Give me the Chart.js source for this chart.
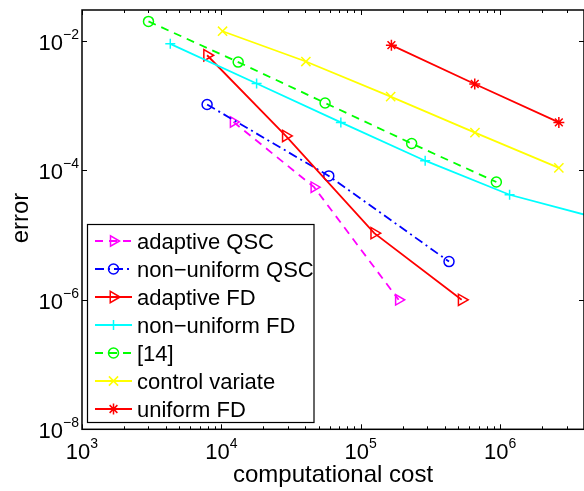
<!DOCTYPE html>
<html lang="en">
<head>
  <meta charset="UTF-8" />
  <title>error vs computational cost</title>
  <script src="https://cdn.jsdelivr.net/npm/chart.js"></script>
  <style>
    html, body { margin: 0; padding: 0; background: #fff; }
    canvas { display: block; }
  </style>
</head>
<body>
<canvas id="costChart" width="584" height="491"></canvas>
<script>
  // values (log-log)
  const seriesNames = ["adaptive QSC", "non\u2212uniform QSC", "adaptive FD", "non\u2212uniform FD", "[14]", "control variate", "uniform FD"];

  const adaptiveQscCost = [1.22e4, 4.63e4, 1.87e5];
  const adaptiveQscErr  = [5.6e-4, 5.5e-5, 1.0e-6];

  const nonUniformQscCost = [7.9e3, 5.9e4, 4.3e5];
  const nonUniformQscErr  = [1.04e-3, 8.2e-5, 3.9e-6];

  const adaptiveFdCost = [7.9e3, 2.9e4, 1.25e5, 5.3e5];
  const adaptiveFdErr  = [6.0e-3, 3.4e-4, 1.07e-5, 1.0e-6];

  const nonUniformFdCost = [4.3e3, 1.79e4, 7.2e4, 2.9e5, 1.17e6, 4.7e6];
  const nonUniformFdErr  = [9.0e-3, 2.2e-3, 5.5e-4, 1.41e-4, 4.2e-5, 1.9e-5];

  const ref14Cost = [3.0e3, 1.32e4, 5.55e4, 2.32e5, 9.4e5];
  const ref14Err  = [2.0e-2, 4.7e-3, 1.1e-3, 2.6e-4, 6.6e-5];

  const controlVariateCost = [1.02e4, 4.04e4, 1.64e5, 6.6e5, 2.64e6];
  const controlVariateErr  = [1.41e-2, 4.8e-3, 1.38e-3, 3.83e-4, 1.09e-4];

  const uniformFdCost = [1.66e5, 6.58e5, 2.64e6];
  const uniformFdErr  = [8.6e-3, 2.16e-3, 5.5e-4];

  const xMajorTicks = [1e3, 1e4, 1e5, 1e6];
  const xTickExps = ["3", "4", "5", "6"];
  const yMajorTicks = [1e-2, 1e-4, 1e-6, 1e-8];
  const yTickExps = ["\u22122", "\u22124", "\u22126", "\u22128"];

  const FONT = '"Liberation Sans", Arial, Helvetica, sans-serif';

  function makeSet(i, xs, ys, color, style, dash, radius, rotation) {
    return {
      label: seriesNames[i],
      data: xs.map((v, k) => ({ x: v, y: ys[k] })),
      showLine: true,
      borderColor: color,
      borderWidth: 1.8,
      borderDash: dash,
      tension: 0,
      fill: false,
      pointStyle: style,
      pointRadius: radius,
      pointRotation: rotation || 0,
      pointBorderColor: color,
      pointBackgroundColor: "rgba(0,0,0,0)",
      pointBorderWidth: 1.5,
      order: -i
    };
  }

  const datasets = [
    makeSet(0, adaptiveQscCost, adaptiveQscErr, "#ff00ff", "triangle", [8, 6], 6, 90),
    makeSet(1, nonUniformQscCost, nonUniformQscErr, "#0000ff", "circle", [9, 4, 2, 4], 5),
    makeSet(2, adaptiveFdCost, adaptiveFdErr, "#ff0000", "triangle", [], 6.5, 90),
    makeSet(3, nonUniformFdCost, nonUniformFdErr, "#00ffff", "cross", [], 5),
    makeSet(4, ref14Cost, ref14Err, "#00ff00", "circle", [8, 6], 5),
    makeSet(5, controlVariateCost, controlVariateErr, "#ffff00", "crossRot", [], 6.5),
    makeSet(6, uniformFdCost, uniformFdErr, "#ff0000", "star", [], 5.5)
  ];

  function drawMarker(ctx, ds, cx, cy) {
    ctx.setLineDash([]);
    ctx.strokeStyle = ds.pointBorderColor;
    ctx.fillStyle = "rgba(0,0,0,0)";
    ctx.lineWidth = ds.pointBorderWidth;
    Chart.helpers.drawPoint(ctx, {
      pointStyle: ds.pointStyle,
      rotation: ds.pointRotation,
      radius: ds.pointRadius,
      borderWidth: ds.pointBorderWidth
    }, cx, cy);
  }

  const matlabAxes = {
    id: "matlabAxes",
    afterDraw(chart) {
      const { ctx, chartArea: a, scales: { x, y } } = chart;
      ctx.save();
      ctx.setLineDash([]);
      ctx.strokeStyle = "#000";
      ctx.fillStyle = "#000";

      // tick marks (inward, all four sides)
      ctx.lineWidth = 1;
      ctx.beginPath();
      for (let d = 3; d <= 6; d++) {
        for (let k = 1; k <= 9; k++) {
          const v = k * Math.pow(10, d);
          if (v > x.max) break;
          const len = k === 1 ? 5 : 3;
          const px = Math.round(x.getPixelForValue(v)) + 0.5;
          ctx.moveTo(px, a.bottom); ctx.lineTo(px, a.bottom - len);
          ctx.moveTo(px, a.top); ctx.lineTo(px, a.top + len);
        }
      }
      yMajorTicks.forEach(v => {
        const py = Math.round(y.getPixelForValue(v)) + 0.5;
        ctx.moveTo(a.left, py); ctx.lineTo(a.left + 5, py);
        ctx.moveTo(a.right, py); ctx.lineTo(a.right - 5, py);
      });
      ctx.stroke();

      ctx.lineWidth = 1.5;
      ctx.strokeRect(a.left, a.top, a.right - a.left, a.bottom - a.top);

      // tick labels 10^n
      ctx.textAlign = "left";
      ctx.textBaseline = "alphabetic";
      xMajorTicks.forEach((v, i) => {
        const px = x.getPixelForValue(v);
        ctx.font = "22px " + FONT;
        const w1 = ctx.measureText("10").width;
        ctx.font = "14px " + FONT;
        const w2 = ctx.measureText(xTickExps[i]).width;
        const sx = px - (w1 + w2) / 2;
        ctx.font = "22px " + FONT;
        ctx.fillText("10", sx, 459);
        ctx.font = "14px " + FONT;
        ctx.fillText(xTickExps[i], sx + w1, 448);
      });
      yMajorTicks.forEach((v, i) => {
        const py = y.getPixelForValue(v);
        ctx.font = "22px " + FONT;
        const w1 = ctx.measureText("10").width;
        ctx.font = "14px " + FONT;
        const w2 = ctx.measureText(yTickExps[i]).width;
        const sx = 79 - (w1 + w2);
        ctx.font = "22px " + FONT;
        ctx.fillText("10", sx, py + 9);
        ctx.font = "14px " + FONT;
        ctx.fillText(yTickExps[i], sx + w1, py - 2);
      });

      // axis titles
      ctx.font = "24px " + FONT;
      ctx.textAlign = "center";
      ctx.fillText("computational cost", (a.left + a.right) / 2, 482);
      ctx.save();
      ctx.translate(28, 218);
      ctx.rotate(-Math.PI / 2);
      ctx.fillText("error", 0, 0);
      ctx.restore();

      // legend box
      const bx = 87.5, by = 224.5, bw = 226.5, bh = 198;
      ctx.fillStyle = "#fff";
      ctx.fillRect(bx, by, bw, bh);
      ctx.lineWidth = 1.2;
      ctx.strokeStyle = "#000";
      ctx.strokeRect(bx, by, bw, bh);
      ctx.font = "22px " + FONT;
      ctx.textAlign = "left";
      datasets.forEach((ds, i) => {
        const cy = 241 + i * 28;
        ctx.strokeStyle = ds.borderColor;
        ctx.lineWidth = ds.borderWidth;
        ctx.setLineDash(ds.borderDash);
        ctx.beginPath();
        ctx.moveTo(95, cy);
        ctx.lineTo(132, cy);
        ctx.stroke();
        drawMarker(ctx, ds, 113.5, cy);
        ctx.fillStyle = "#000";
        ctx.fillText(ds.label, 137, cy + 8);
      });
      ctx.restore();
    }
  };

  new Chart(document.getElementById("costChart").getContext("2d"), {
    type: "scatter",
    data: { datasets },
    options: {
      responsive: false,
      animation: false,
      layout: { autoPadding: false, padding: { left: 82, top: 10, right: -3.5, bottom: 61.7 } },
      plugins: { legend: { display: false }, tooltip: { enabled: false } },
      scales: {
        x: { type: "logarithmic", min: 1e3, max: 4e6, display: false },
        y: { type: "logarithmic", min: 1e-8, max: 3e-2, display: false }
      }
    },
    plugins: [matlabAxes]
  });
</script>
</body>
</html>
